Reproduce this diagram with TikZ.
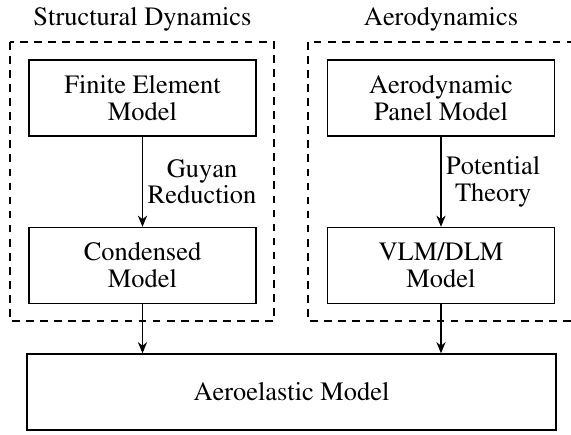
\documentclass[tikz,border=0pt]{standalone}
\usepackage[T1]{fontenc}
\usepackage{mathptmx}
\usetikzlibrary{positioning, arrows.meta}

\begin{document}
\begin{tikzpicture}[font=\rmfamily\fontsize{18.8}{19}\selectfont,
    >={Stealth[length=2.8mm, width=2.3mm, inset=0.9mm]}]
      \useasboundingbox (0, 0) rectangle (14.275, -10.875);

      % domain frames
      \draw[line width=0.8pt, dash pattern=on 5.5pt off 4.5pt]
        (0.25, -1.05) rectangle (6.85, -8.025);
      \draw[line width=0.8pt, dash pattern=on 5.5pt off 4.5pt]
        (7.7, -1.05) rectangle (14.6, -8.025);
      \node[anchor=base] (sdtitle) at (3.5625, -0.625) {Structural Dynamics};
      \node[anchor=base] (adtitle) at (11.025, -0.625) {Aerodynamics};

      \begin{scope}[
        every node/.style={
        draw,
        line width=1pt,
        minimum height=1.9cm,
        minimum width=5.675cm,
        shape=rectangle,
        align=center,
        }
      ]
        \node (fem) at (3.5625, -2.45) {Finite Element\\Model};
        \node (cond) at (3.5625, -6.6375) {Condensed\\Model};
        \node (panel) at (11.025, -2.45) {Aerodynamic\\Panel Model};
        \node (vlm) at (11.025, -6.6375) {VLM/DLM\\Model};
        \node[minimum width=13.225cm] (aero) at (7.2875, -9.8) {Aeroelastic Model};
      \end{scope}

      \draw[->, line width=0.8pt] (fem) -- node[right, align=center] {Guyan\\Reduction} (cond);
      \draw[->, line width=0.8pt] (panel) -- node[right, align=center] {Potential\\Theory} (vlm);

      \draw[->, line width=0.8pt] (cond.south) -- (cond.south |- aero.north);
      \draw[->, line width=0.8pt] (vlm.south) -- (vlm.south |- aero.north);
    \end{tikzpicture}
\end{document}
